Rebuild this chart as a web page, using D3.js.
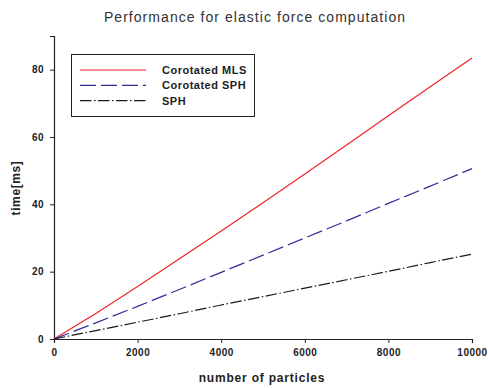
<!DOCTYPE html>
<html>
<head>
<meta charset="utf-8">
<script src="https://cdn.jsdelivr.net/npm/d3@7"></script>
<style>
  body { margin: 0; background: #fff; }
  text { font-family: "Liberation Sans", Arial, sans-serif; }
</style>
</head>
<body>
<div id="chart"></div>
<script>
// particle counts and timings (ms)
const particles = [0, 1000, 2000, 3000, 4000, 5000, 6000, 7000, 8000, 9000, 10000];
const corotatedMLS = [0, 7.6, 15.6, 23.8, 32.1, 40.5, 49.0, 57.6, 66.3, 74.9, 83.5];
const corotatedSPH = [0, 4.8, 9.7, 14.7, 19.8, 24.9, 30.0, 35.1, 40.3, 45.4, 50.6];
const sph = [0, 2.5, 5.0, 7.5, 10.1, 12.6, 15.1, 17.6, 20.1, 22.7, 25.2];
const xTicks = [0, 2000, 4000, 6000, 8000, 10000];
const yTicks = [0, 20, 40, 60, 80];

const series = [
  {name: 'Corotated MLS', values: corotatedMLS, color: '#f0242c', dash: null},
  {name: 'Corotated SPH', values: corotatedSPH, color: '#2e2e96', dash: '16,5'},
  {name: 'SPH', values: sph, color: '#1a1a1a', dash: '11.5,2.5,1.5,2.5'}
];

const width = 488, height = 388;
const margin = {top: 36, right: 16, bottom: 49, left: 54};

const svg = d3.select('#chart')
  .append('svg')
  .attr('width', width)
  .attr('height', height);

const x = d3.scaleLinear().domain([0, 10000]).range([margin.left, width - margin.right]);
const y = d3.scaleLinear().domain([0, 90]).range([height - margin.bottom, margin.top]);

// title
svg.append('text')
  .attr('x', 255)
  .attr('y', 22)
  .attr('text-anchor', 'middle')
  .style('font-size', '14px')
  .style('letter-spacing', '1.05px')
  .style('fill', '#333')
  .text('Performance for elastic force computation');

// axes
const xAxis = svg.append('g')
  .attr('transform', 'translate(0,' + y(0) + ')')
  .call(d3.axisBottom(x).tickValues(xTicks).tickSize(4).tickPadding(6).tickFormat(d3.format('d')));

const yAxis = svg.append('g')
  .attr('transform', 'translate(' + x(0) + ',0)')
  .call(d3.axisLeft(y).tickValues(yTicks).tickSize(4).tickPadding(6));

[xAxis, yAxis].forEach(g => {
  g.select('.domain').attr('stroke', '#222').attr('stroke-width', 1.2);
  g.selectAll('.tick line').attr('stroke', '#222');
  g.selectAll('.tick text')
    .style('font-family', '"Liberation Sans", Arial, sans-serif')
    .style('font-size', '10px')
    .style('font-weight', 'bold')
    .style('letter-spacing', '0.5px')
    .style('fill', '#222');
});

// axis labels
svg.append('text')
  .attr('x', 262)
  .attr('y', 382)
  .attr('text-anchor', 'middle')
  .style('font-size', '12px')
  .style('font-weight', 'bold')
  .style('letter-spacing', '0.8px')
  .style('fill', '#222')
  .text('number of particles');

svg.append('text')
  .attr('transform', 'translate(20,188) rotate(-90)')
  .attr('text-anchor', 'middle')
  .style('font-size', '12px')
  .style('font-weight', 'bold')
  .style('letter-spacing', '0.6px')
  .style('fill', '#222')
  .text('time[ms]');

// lines
const line = d3.line()
  .x((d, i) => x(particles[i]))
  .y(d => y(d));

svg.selectAll('.series')
  .data(series)
  .enter()
  .append('path')
  .attr('class', 'series')
  .attr('d', d => line(d.values))
  .attr('fill', 'none')
  .attr('stroke', d => d.color)
  .attr('stroke-width', 1.2)
  .attr('stroke-dasharray', d => d.dash);

// legend
const legend = svg.append('g');
legend.append('rect')
  .attr('x', 71.5)
  .attr('y', 54.5)
  .attr('width', 183)
  .attr('height', 62)
  .attr('fill', 'none')
  .attr('stroke', '#222')
  .attr('stroke-width', 1);

const row = legend.selectAll('.row')
  .data(series)
  .enter()
  .append('g')
  .attr('transform', (d, i) => 'translate(0,' + (70 + i * 15.3) + ')');

row.append('line')
  .attr('x1', 80)
  .attr('x2', 146)
  .attr('stroke', d => d.color)
  .attr('stroke-width', 1.2)
  .attr('stroke-dasharray', d => d.dash);

row.append('text')
  .attr('x', 162)
  .attr('y', 4)
  .style('font-size', '11px')
  .style('font-weight', 'bold')
  .style('letter-spacing', '0.5px')
  .style('fill', '#222')
  .text(d => d.name);
</script>
</body>
</html>
